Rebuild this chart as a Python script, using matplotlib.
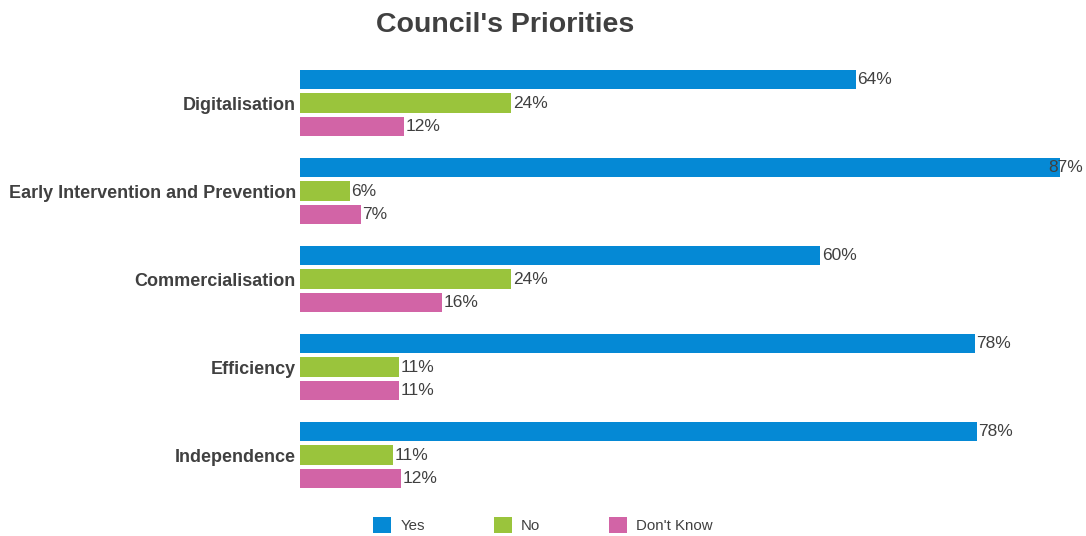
import numpy as np
import matplotlib
matplotlib.use("Agg")
import matplotlib.pyplot as plt

plt.rcParams['font.family'] = ['Liberation Sans', 'DejaVu Sans']

# survey results (percent)
categories = ["Digitalisation", "Early Intervention and Prevention",
              "Commercialisation", "Efficiency", "Independence"]
series = ["Yes", "No", "Don't Know"]
yes = [63.9, 87.4, 59.8, 77.6, 77.8]
no = [24.3, 5.7, 24.3, 11.4, 10.7]
dont_know = [12.0, 7.0, 16.3, 11.4, 11.6]
colors = ["#0589D5", "#9AC43C", "#D264A6"]

txt = "#404040"

fig = plt.figure(figsize=(10.86, 5.36), dpi=100)
ax = fig.add_axes([300 / 1086, 1 - 499 / 536, 765.6 / 1086, 440 / 536])

y = np.arange(len(categories))
step = 0.267
h = 0.227
xmax = 88
for i, (name, vals, c) in enumerate(zip(series, [yes, no, dont_know], colors)):
    pos = y + (i - 1) * step
    ax.barh(pos, vals, height=h, color=c, label=name)
    for p, v in zip(pos, vals):
        # the longest bar gets its label pulled back inside the figure
        dx = -8.5 if v > xmax - 5 else 1
        ax.annotate("%.0f%%" % v, (v, p), xytext=(dx, 0), textcoords="offset points",
                    va="center", ha="left", fontsize=12.5, color=txt)

ax.set_xlim(0, xmax)
ax.set_ylim(len(categories) - 0.5, -0.5)
ax.set_yticks(y)
ax.set_yticklabels(categories, fontsize=13, fontweight="bold", color=txt)
ax.tick_params(axis="y", length=0, pad=3)
ax.set_xticks([])
for s in ax.spines.values():
    s.set_visible(False)

fig.text(505 / 1086, 1 - 25 / 536, "Council's Priorities", ha="center", va="center",
         fontsize=20.5, fontweight="bold", color=txt)

fig.legend(loc="center", bbox_to_anchor=(543 / 1086, 1 - 525 / 536), ncol=3,
           frameon=False, fontsize=10.8, handlelength=1.2, handleheight=1.2,
           handletextpad=0.6, columnspacing=4.6, labelcolor=txt)

fig.savefig("out.png", dpi=100)
